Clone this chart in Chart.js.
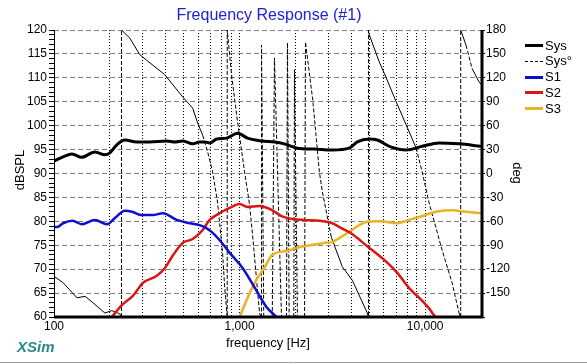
<!DOCTYPE html>
<html>
<head>
<meta charset="utf-8">
<script src="https://cdn.jsdelivr.net/npm/chart.js@4.4.1/dist/chart.umd.min.js"></script>
<style>
  html, body { margin: 0; padding: 0; background: #fff; }
  canvas { display: block; }
</style>
</head>
<body>
<canvas id="fr" width="587" height="364"></canvas>
<script>
// x axis ticks (log, 100 Hz .. 20 kHz), only the decades get a label
const freqTicks = [100,200,300,400,500,600,700,800,900,1000,2000,3000,4000,5000,6000,7000,8000,9000,10000,20000];
const freqLabels = {100: '100', 1000: '1,000', 10000: '10,000'};

// Sys magnitude
const sysFreq = [100,108,125,141,166,188,200,218,241,279,328,405,447,494,559,609,648,690,753,851,975,1104,1313,1542,1746,2050,2530,3162,3900,4310,5000,5520,6570,7900,9638,11890,15230,20000];
const sysDb   = [92.6,93.2,94.1,93.4,94.5,93.9,94.3,96.0,97.0,96.6,96.6,96.8,96.6,96.8,96.2,96.6,96.6,96.4,97.2,97.4,98.4,97.4,96.8,96.6,96.2,95.3,95.1,94.9,95.3,96.6,97.2,97.0,95.5,94.9,95.7,96.4,96.2,95.7];

// Sys phase (deg), wraps at +-180
const phaseFreq = [100,112,133,147,162,188,205,226,231,231,256,290,316,395,494,559,595,633,673,716,762,810,830,858,858,906,975,1064,1132,1175,1281,1305,1313,1350,1500,1542,1682,1790,1812,1850,1960,1976,2050,2240,2265,2480,2692,2794,3123,3580,4052,4878,4950,4950,5000,5658,6170,6982,7900,8944,9638,10510,12340,13970,15230,15550,15550,16610,17890,19500,20000];
const phaseDeg  = [-129,-137,-156,-154,-162,-175,-172,-176,-180,180,170,149,142,124,96,82,63,48,27,2,-37,-100,-140,-180,180,123,65,2,-39,-77,-175,-180,161,-180,-180,145,-180,-180,164,-180,-180,130,-180,-180,165,92,2,-23,-80,-117,-134,-175,-180,180,174,140,120,90,61,32,2,-37,-96,-137,-175,-180,180,161,132,115,112];

// drivers
const s1Freq = [100,104,112,126,141,166,193,213,241,263,297,341,386,459,539,609,648,707,780,885,1040,1200,1396,1542,1580];
const s1Db   = [78.8,78.8,79.6,80.1,79.4,80.3,79.4,80.7,82.2,82.0,81.3,81.3,81.7,80.3,79.6,79.2,78.8,77.8,76.1,73.4,70.2,66.3,62.1,60.4,60.0];

const s2Freq = [205,232,266,301,358,395,436,494,559,633,690,780,885,1000,1110,1281,1486,1682,1927,2240,2692,3162,3450,3950,4878,6000,6982,8400,9600,10500,11160,11400];
const s2Db   = [60.0,62.5,64.4,67.1,68.6,70.2,72.8,75.5,76.3,78.2,80.3,81.7,82.8,83.6,83.0,83.2,82.4,81.1,80.5,80.3,80.1,79.6,78.8,77.6,74.8,72.0,69.5,65.6,63.5,61.8,60.4,60.0];

const s3Freq = [1000,1110,1230,1370,1500,1790,2090,2594,2890,3162,3450,3900,4420,4878,5800,6982,8200,9280,11460,13970,16610,20000];
const s3Db   = [60.0,64.2,67.7,70.5,73.0,73.8,74.6,75.2,75.5,75.7,76.5,77.8,79.2,79.9,80.0,79.6,80.3,80.9,82.0,82.3,82.0,81.7];

const FONT = "'Liberation Sans', Arial, sans-serif";
const toPts = (fs, vs) => fs.map((f, i) => ({x: f, y: vs[i]}));

// minor ticks every 1 dB on the left axis
const dbTicks = [];
for (let v = 60; v <= 120; v++) dbTicks.push(v);

// steep parts of the phase look dashed, the slow parts look solid
const steepDash = (c) => {
  const dx = Math.abs(c.p1.x - c.p0.x), dy = Math.abs(c.p1.y - c.p0.y);
  return dy > 3.2 * dx ? [4, 2] : undefined;
};

const extras = {
  id: 'extras',
  afterDatasetsDraw(chart) {
    const {ctx, chartArea: a} = chart;
    ctx.save();
    ctx.strokeStyle = '#000';
    ctx.lineWidth = 1;
    ctx.beginPath();
    ctx.moveTo(a.left + 0.5, a.top);
    ctx.lineTo(a.left + 0.5, a.bottom);
    ctx.stroke();
    ctx.lineWidth = 3;
    ctx.beginPath();
    ctx.moveTo(a.left, a.bottom);
    ctx.lineTo(a.right + 1, a.bottom);
    ctx.moveTo(a.right + 1, a.top);
    ctx.lineTo(a.right + 1, a.bottom + 1.5);
    ctx.stroke();
    ctx.restore();
  },
  afterDraw(chart) {
    const {ctx, chartArea: a} = chart;
    ctx.save();
    // title
    ctx.fillStyle = '#2020d8';
    ctx.font = '16px ' + FONT;
    ctx.textAlign = 'center';
    ctx.textBaseline = 'middle';
    ctx.fillText('Frequency Response (#1)', 269, 16);

    ctx.fillStyle = '#000';
    ctx.font = '13px ' + FONT;
    ctx.fillText('frequency [Hz]', 268, 343);

    ctx.save();
    ctx.translate(20, 170);
    ctx.rotate(-Math.PI / 2);
    ctx.fillText('dBSPL', 0, 0);
    ctx.restore();

    ctx.save();
    ctx.translate(517, 173);
    ctx.rotate(Math.PI / 2);
    ctx.fillText('deg', 0, 0);
    ctx.restore();

    // XSim logo
    ctx.fillStyle = '#2a8a8a';
    ctx.font = 'italic bold 15px ' + FONT;
    ctx.textAlign = 'left';
    ctx.fillText('XSim', 17, 348);

    // legend
    ctx.font = '13px ' + FONT;
    chart.data.datasets.forEach((ds, i) => {
      const y = 45 + i * 15.8;
      ctx.strokeStyle = ds.borderColor;
      ctx.lineWidth = ds.label === 'Sys°' ? 1 : 3;
      ctx.setLineDash(ds.label === 'Sys°' ? [3, 2] : []);
      ctx.beginPath();
      ctx.moveTo(525, Math.round(y) + 0.5);
      ctx.lineTo(543, Math.round(y) + 0.5);
      ctx.stroke();
      ctx.setLineDash([]);
      ctx.fillStyle = '#000';
      ctx.fillText(ds.label, 545, y + 1);
    });

    // window frame line at the bottom
    ctx.strokeStyle = '#a0a0a0';
    ctx.lineWidth = 1;
    ctx.beginPath();
    ctx.moveTo(0, 362.5);
    ctx.lineTo(587, 362.5);
    ctx.stroke();
    ctx.restore();
  }
};

new Chart(document.getElementById('fr'), {
  type: 'line',
  data: {
    datasets: [
      {label: 'Sys', data: toPts(sysFreq, sysDb), borderColor: '#000', borderWidth: 3, yAxisID: 'y', order: 1, cubicInterpolationMode: 'monotone'},
      {label: 'Sys°', data: toPts(phaseFreq, phaseDeg), borderColor: '#000', borderWidth: 1, yAxisID: 'y1', order: 5, tension: 0, segment: {borderDash: steepDash}},
      {label: 'S1', data: toPts(s1Freq, s1Db), borderColor: '#0c10cc', borderWidth: 2.5, yAxisID: 'y', order: 2, cubicInterpolationMode: 'monotone'},
      {label: 'S2', data: toPts(s2Freq, s2Db), borderColor: '#dc1414', borderWidth: 2.5, yAxisID: 'y', order: 3, cubicInterpolationMode: 'monotone'},
      {label: 'S3', data: toPts(s3Freq, s3Db), borderColor: '#e8b424', borderWidth: 2.5, yAxisID: 'y', order: 4, cubicInterpolationMode: 'monotone'}
    ]
  },
  options: {
    responsive: false,
    devicePixelRatio: 1,
    animation: false,
    events: [],
    layout: { padding: { top: 30, left: 0, right: 0, bottom: 0 } },
    elements: { point: { radius: 0 } },
    plugins: {
      legend: { display: false },
      title: { display: false },
      tooltip: { enabled: false }
    },
    scales: {
      x: {
        type: 'logarithmic',
        min: 100,
        max: 20000,
        afterBuildTicks: (s) => { s.ticks = freqTicks.map(v => ({value: v})); },
        afterFit: (s) => { s.height = 47; },
        ticks: {
          autoSkip: false,
          maxRotation: 0,
          padding: 2,
          color: '#000',
          font: { family: FONT, size: 12 },
          callback: (v) => freqLabels[v] || ''
        },
        grid: { color: '#000', lineWidth: 1, drawTicks: false },
        border: { display: false, dash: [1, 2] }
      },
      y: {
        position: 'left',
        min: 60,
        max: 120,
        afterBuildTicks: (s) => { s.ticks = dbTicks.map(v => ({value: v})); },
        afterFit: (s) => { s.width = 54; },
        ticks: {
          autoSkip: false,
          padding: 2,
          color: '#000',
          font: { family: FONT, size: 12 },
          callback: (v) => (v % 5 === 0 ? String(v) : '')
        },
        grid: {
          color: (c) => (c.tick && c.tick.value % 5 === 0 ? '#808080' : 'rgba(0,0,0,0)'),
          tickColor: '#000',
          tickLength: 5,
          lineWidth: 1
        },
        border: { display: false, dash: [5, 3] }
      },
      y1: {
        position: 'right',
        min: -180,
        max: 180,
        afterFit: (s) => { s.width = 106; },
        ticks: {
          stepSize: 30,
          autoSkip: false,
          padding: 1,
          color: '#000',
          font: { family: FONT, size: 12 },
          callback: (v) => (v === -180 ? '' : String(v))
        },
        grid: { drawOnChartArea: false, tickColor: '#000', tickLength: 4 },
        border: { display: false }
      }
    }
  },
  plugins: [extras]
});
</script>
</body>
</html>
